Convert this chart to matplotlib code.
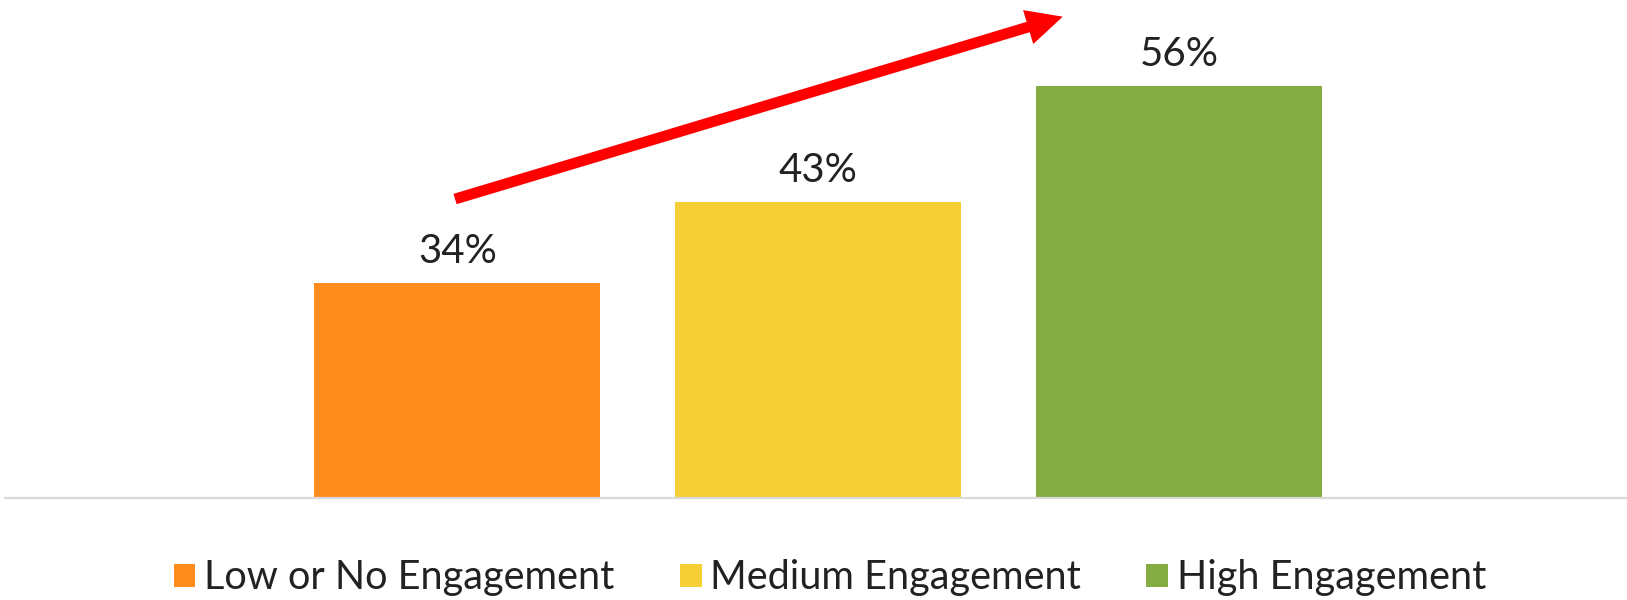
import matplotlib.pyplot as plt
from matplotlib.patches import Patch

categories = ["Low or No Engagement", "Medium Engagement", "High Engagement"]
values = [34, 43, 56]
labels = ["34%", "43%", "56%"]
colors = ["#FF8C1C", "#F5CF36", "#84AC42"]

plt.rcParams["font.family"] = ["Lato", "DejaVu Sans"]
text_color = "#222222"

fig = plt.figure(figsize=(16.27, 6.0), dpi=100)
ax = fig.add_axes([5 / 1627, 102 / 600, 1622 / 1627, 498 / 600])

x = list(range(len(categories)))
bars = ax.bar(x, values, width=0.792, color=colors, zorder=2)

ax.set_xlim(-1.2535, 3.241)
ax.set_ylim(10, 65.6)

for xi, v, lab in zip(x, values, labels):
    ax.annotate(lab, (xi, v), xytext=(0, 14.4), textcoords="offset points",
                ha="center", va="baseline", fontsize=29, color=text_color)

for side in ["top", "left", "right"]:
    ax.spines[side].set_visible(False)
ax.spines["bottom"].set_color("#D9D9D9")
ax.spines["bottom"].set_linewidth(1.6)
ax.set_xticks([])
ax.set_yticks([])

# rising trend arrow over the bars
ax.annotate("", xy=(0.6532, 0.9722), xytext=(0.2797, 0.6683),
            xycoords="figure fraction", textcoords="figure fraction",
            arrowprops=dict(width=7.8, headwidth=25.5, headlength=26,
                            shrink=0, color="#FF0000", lw=0))

handles = [Patch(facecolor=c, edgecolor="none") for c in colors]
fig.legend(handles, categories, loc="center", bbox_to_anchor=(830 / 1627, 1 - 578 / 600),
           ncol=3, frameon=False, fontsize=28.5, handlelength=0.55, handleheight=0.55,
           handletextpad=0.22, columnspacing=1.65, labelcolor=text_color)

fig.savefig("out.png", dpi=100)
